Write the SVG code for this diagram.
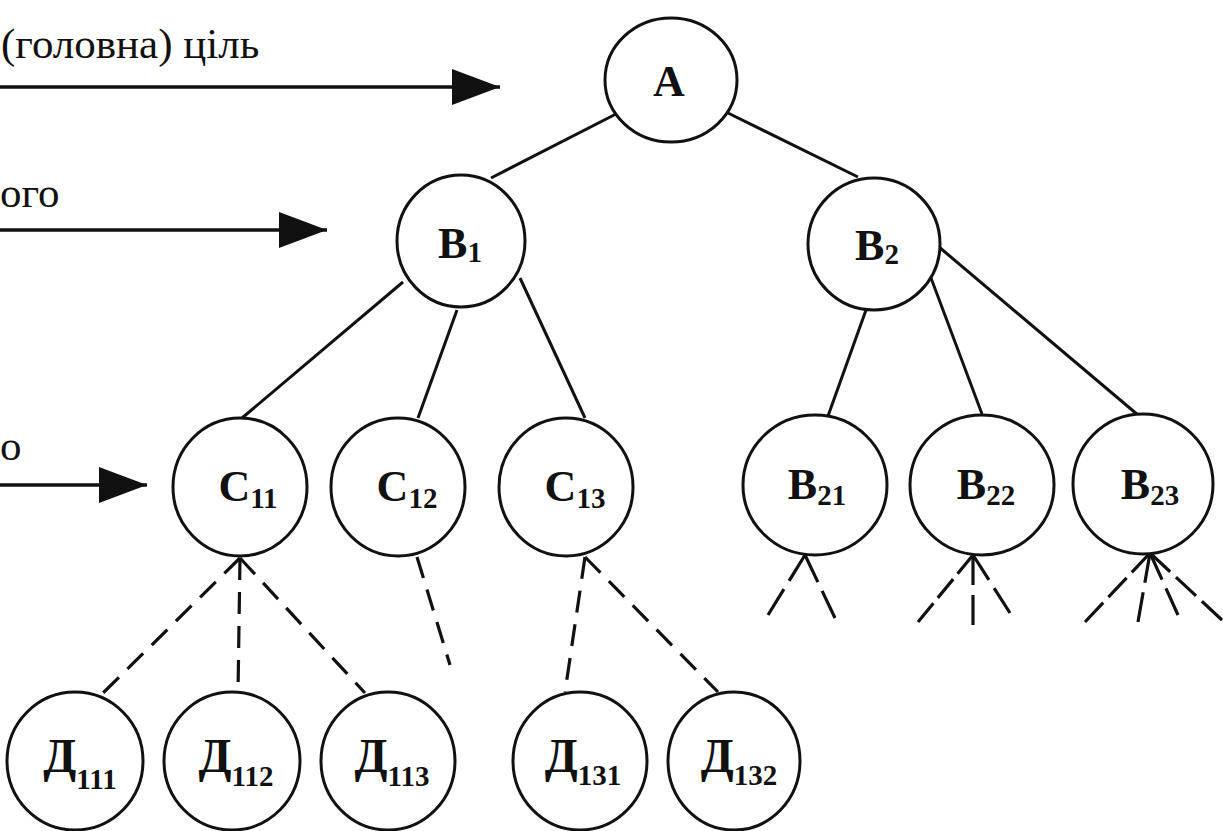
<svg xmlns="http://www.w3.org/2000/svg" width="1223" height="831" viewBox="0 0 1223 831">
<style>
.node ellipse{fill:#fff;stroke:#111;stroke-width:3}
.lbl{font-family:"Liberation Serif","Times New Roman",serif;font-weight:bold;font-size:44px;fill:#111;text-anchor:middle}
.sub{font-size:29px}
.dl{font-size:48px}
.cap{font-family:"Liberation Serif","Times New Roman",serif;font-size:43px;fill:#111}
.solid{stroke:#111;stroke-width:3;fill:none}
.dash{stroke:#111;stroke-width:3.2;fill:none;stroke-dasharray:22 12}
.d2{stroke-dasharray:43 14 43}
.d3{stroke-dasharray:28 8 28 8 28}
.arr{stroke:#111;stroke-width:3.5;fill:none;marker-end:url(#ah)}
</style>
<defs>
<marker id="ah" markerUnits="userSpaceOnUse" markerWidth="52" markerHeight="38" refX="48" refY="18" orient="auto">
<path d="M0,0 L48,18 L0,36 Z" fill="#111"/>
</marker>
</defs>
<rect width="1223" height="831" fill="#fff"/>

<g id="captions">
<text class="cap" x="1" y="58">(головна) ціль</text>
<text class="cap" x="0" y="207" font-size="40">ого</text>
<text class="cap" x="0" y="460" font-size="40">о</text>
</g>

<g id="connectors">
<line class="arr" x1="0" y1="87" x2="500" y2="87"/>
<line class="arr" x1="0" y1="230" x2="327" y2="230"/>
<line class="arr" x1="0" y1="485" x2="147" y2="485"/>

<line class="solid" x1="616" y1="114" x2="491" y2="178"/>
<line class="solid" x1="728" y1="113" x2="858" y2="177"/>
<line class="solid" x1="403" y1="282" x2="242" y2="418"/>
<line class="solid" x1="457" y1="310" x2="418" y2="418"/>
<line class="solid" x1="520" y1="278" x2="585" y2="418"/>
<line class="solid" x1="866" y1="310" x2="828" y2="416"/>
<line class="solid" x1="931" y1="278" x2="982" y2="414"/>
<line class="solid" x1="939" y1="247" x2="1138" y2="415"/>

<line class="dash" x1="240" y1="558" x2="103" y2="693"/>
<line class="dash" x1="240" y1="558" x2="238" y2="693"/>
<line class="dash" x1="240" y1="558" x2="365" y2="693"/>
<line class="dash" x1="417" y1="557" x2="450" y2="665"/>
<line class="dash" x1="585" y1="557" x2="565" y2="692"/>
<line class="dash" x1="585" y1="557" x2="718" y2="692"/>
<line class="dash d2" pathLength="100" x1="805" y1="555" x2="768" y2="615"/>
<line class="dash d2" pathLength="100" x1="805" y1="555" x2="835" y2="618"/>
<line class="dash d3" pathLength="100" x1="973" y1="555" x2="918" y2="622"/>
<line class="dash d2" pathLength="100" x1="973" y1="555" x2="973" y2="625"/>
<line class="dash d2" pathLength="100" x1="973" y1="555" x2="1010" y2="613"/>
<line class="dash d3" pathLength="100" x1="1150" y1="553" x2="1085" y2="622"/>
<line class="dash d2" pathLength="100" x1="1150" y1="553" x2="1138" y2="622"/>
<line class="dash d2" pathLength="100" x1="1150" y1="553" x2="1178" y2="615"/>
<line class="dash d3" pathLength="100" x1="1150" y1="553" x2="1222" y2="620"/>
</g>

<g id="A" class="node"><ellipse cx="671" cy="80" rx="66" ry="62"/><text class="lbl" x="669" y="96">A</text></g>
<g id="B1" class="node"><ellipse cx="461" cy="241" rx="64" ry="66"/><text class="lbl" x="460" y="258">B<tspan class="sub" dy="4">1</tspan></text></g>
<g id="B2" class="node"><ellipse cx="874" cy="244" rx="66" ry="66"/><text class="lbl" x="877" y="260">B<tspan class="sub" dy="4">2</tspan></text></g>

<g id="C11" class="node"><ellipse cx="240" cy="487" rx="67" ry="69"/><text class="lbl" x="248" y="501">C<tspan class="sub" dy="7">11</tspan></text></g>
<g id="C12" class="node"><ellipse cx="398" cy="487" rx="67" ry="69"/><text class="lbl" x="407" y="501">C<tspan class="sub" dy="7">12</tspan></text></g>
<g id="C13" class="node"><ellipse cx="566" cy="487" rx="67" ry="69"/><text class="lbl" x="575" y="501">C<tspan class="sub" dy="7">13</tspan></text></g>

<g id="B21" class="node"><ellipse cx="815" cy="485" rx="72" ry="70"/><text class="lbl" x="817" y="499">B<tspan class="sub" dy="6">21</tspan></text></g>
<g id="B22" class="node"><ellipse cx="982" cy="485" rx="72" ry="70"/><text class="lbl" x="986" y="499">B<tspan class="sub" dy="6">22</tspan></text></g>
<g id="B23" class="node"><ellipse cx="1143" cy="484" rx="70" ry="70"/><text class="lbl" x="1150" y="499">B<tspan class="sub" dy="6">23</tspan></text></g>

<g id="D111" class="node"><ellipse cx="75" cy="761" rx="68" ry="69"/><text class="lbl dl" x="80" y="772">Д<tspan class="sub" dy="17">111</tspan></text></g>
<g id="D112" class="node"><ellipse cx="232" cy="761" rx="68" ry="69"/><text class="lbl dl" x="236" y="772">Д<tspan class="sub" dy="14">112</tspan></text></g>
<g id="D113" class="node"><ellipse cx="388" cy="761" rx="67" ry="69"/><text class="lbl dl" x="392" y="772">Д<tspan class="sub" dy="14">113</tspan></text></g>
<g id="D131" class="node"><ellipse cx="580" cy="761" rx="67" ry="69"/><text class="lbl dl" x="583" y="772">Д<tspan class="sub" dy="13">131</tspan></text></g>
<g id="D132" class="node"><ellipse cx="734" cy="761" rx="66" ry="69"/><text class="lbl dl" x="739" y="772">Д<tspan class="sub" dy="13">132</tspan></text></g>
</svg>
